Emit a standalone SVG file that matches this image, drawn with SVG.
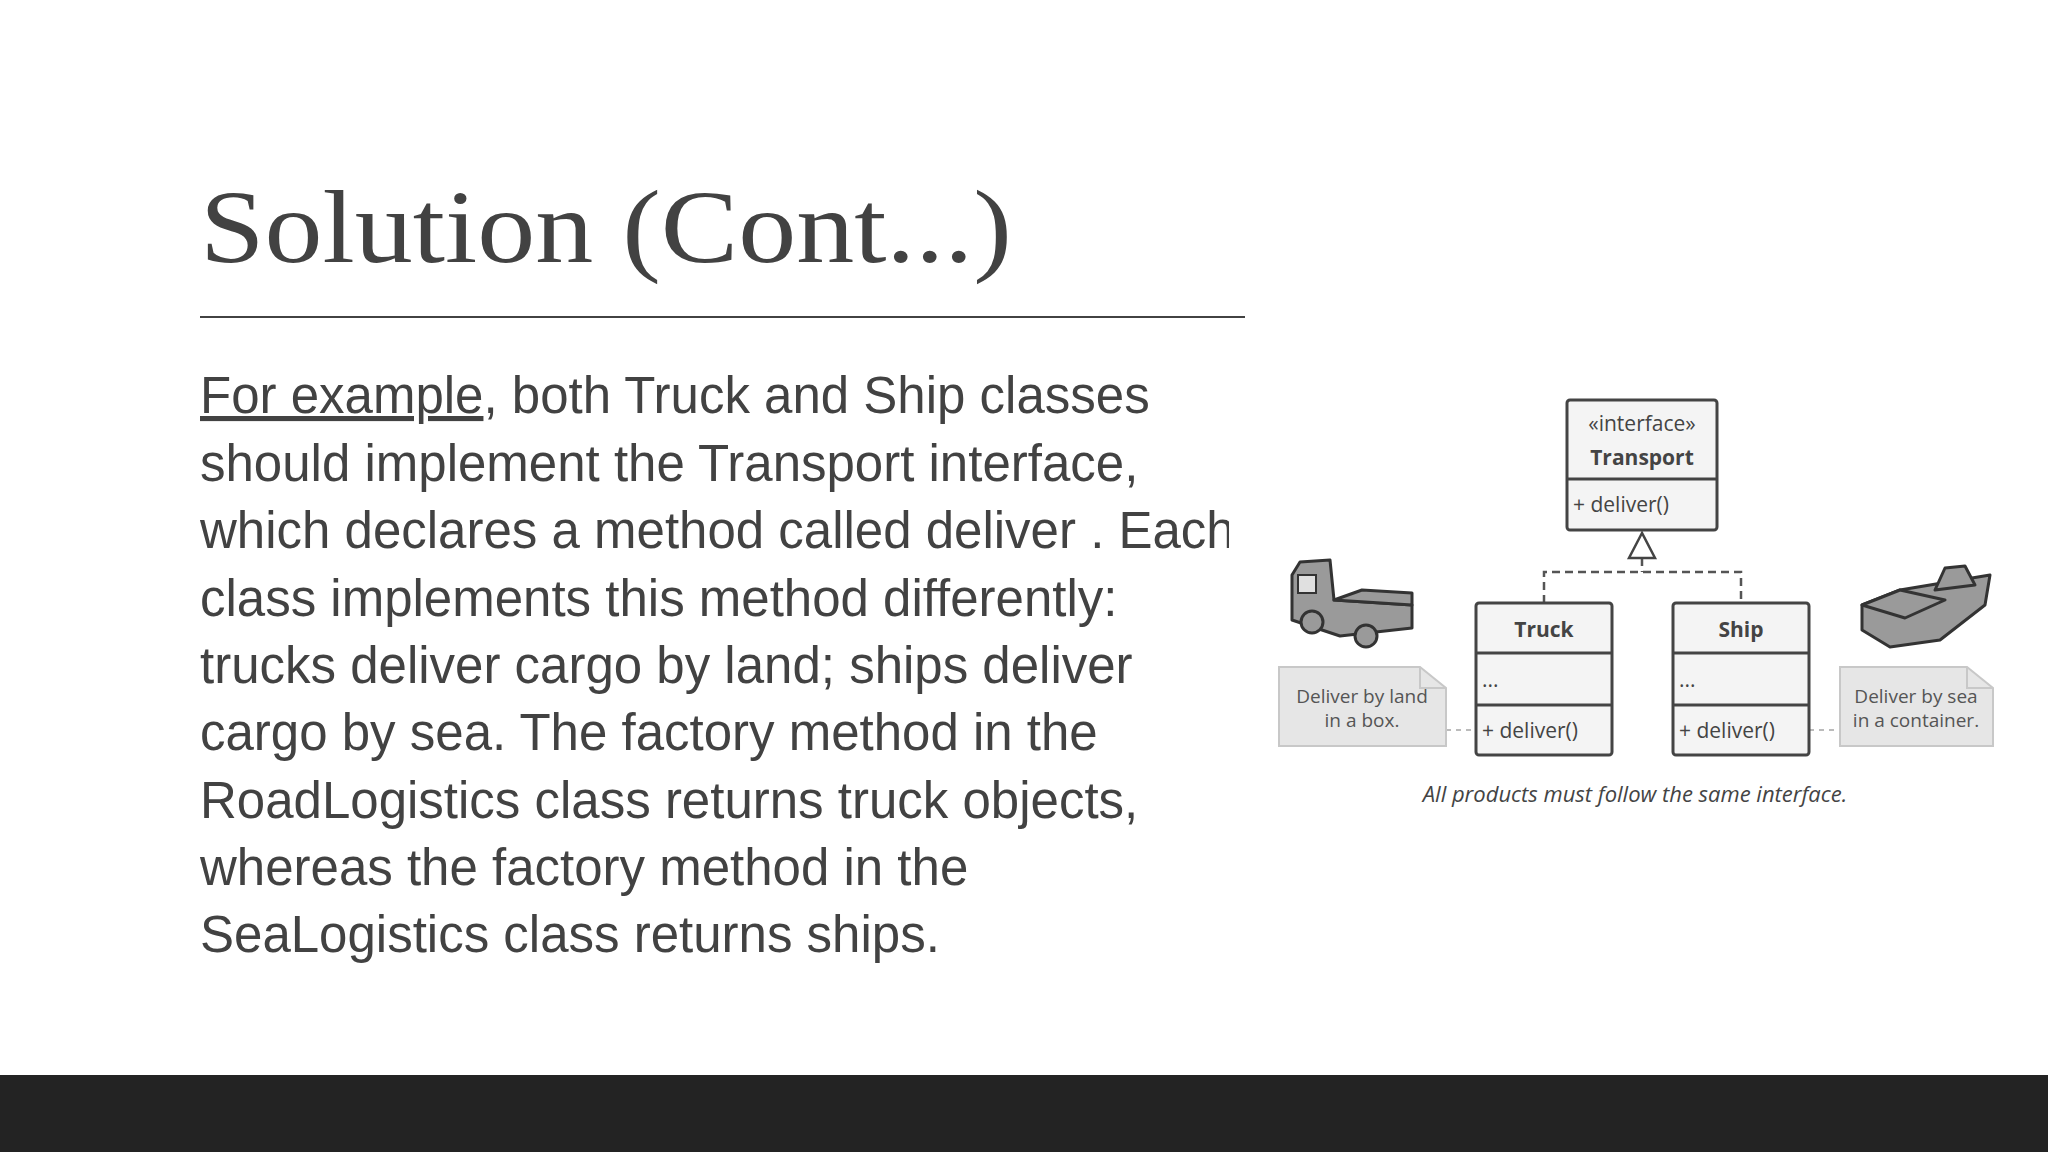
<svg xmlns="http://www.w3.org/2000/svg" width="2048" height="1152" viewBox="0 0 2048 1152">
<defs>
<style>
.body{font-family:"Liberation Sans",Arial,sans-serif;font-size:51px;fill:#424242}
.d{font-family:"Open Sans","DejaVu Sans",sans-serif;font-size:21px;fill:#444}
.n{font-family:"Open Sans","DejaVu Sans",sans-serif;font-size:19px;fill:#555}
.box{fill:#f4f4f4;stroke:#444;stroke-width:3}
.note{fill:#e6e6e6;stroke:#c8c8c8;stroke-width:2}
.ico{fill:#9a9a9a;stroke:#333;stroke-width:3;stroke-linejoin:round}
</style>
<clipPath id="bc"><rect x="0" y="0" width="1229" height="1152"/></clipPath>
</defs>
<rect width="2048" height="1152" fill="#fff"/>
<text x="200" y="262" font-family="Liberation Serif,serif" font-size="104" fill="#424242" textLength="812" lengthAdjust="spacingAndGlyphs">Solution (Cont...)</text>
<line x1="200" y1="317" x2="1245" y2="317" stroke="#424242" stroke-width="2"/>
<g clip-path="url(#bc)" class="body">
<text x="200" y="413"><tspan text-decoration="underline">For example</tspan>, both Truck and Ship classes</text>
<text x="200" y="481">should implement the Transport interface,</text>
<text x="200" y="548">which declares a method called deliver . Each</text>
<text x="200" y="616">class implements this method differently:</text>
<text x="200" y="683">trucks deliver cargo by land; ships deliver</text>
<text x="200" y="750">cargo by sea. The factory method in the</text>
<text x="200" y="818">RoadLogistics class returns truck objects,</text>
<text x="200" y="885">whereas the factory method in the</text>
<text x="200" y="952">SeaLogistics class returns ships.</text>
</g>
<rect x="0" y="1075" width="2048" height="77" fill="#232323"/>
<g id="connectors" fill="none">
<path d="M1642 558 V572 M1544 603 V572 H1741 V603" stroke="#555" stroke-width="2.5" stroke-dasharray="8,5"/>
<polygon points="1642,533 1629,558 1655,558" fill="#fff" stroke="#444" stroke-width="2.5"/>
<line x1="1446" y1="730" x2="1476" y2="730" stroke="#bbb" stroke-width="2" stroke-dasharray="5,5"/>
<line x1="1809" y1="730" x2="1840" y2="730" stroke="#bbb" stroke-width="2" stroke-dasharray="5,5"/>
</g>
<g id="transport">
<rect class="box" x="1567" y="400" width="150" height="130" rx="3"/>
<line x1="1567" y1="479" x2="1717" y2="479" stroke="#444" stroke-width="3"/>
<text class="d" x="1642" y="431" text-anchor="middle">«interface»</text>
<text class="d" x="1642" y="465" text-anchor="middle" font-weight="bold">Transport</text>
<text class="d" x="1573" y="512">+ deliver()</text>
</g>
<g id="truck">
<rect class="box" x="1476" y="603" width="136" height="152" rx="3"/>
<line x1="1476" y1="653" x2="1612" y2="653" stroke="#444" stroke-width="3"/>
<line x1="1476" y1="705" x2="1612" y2="705" stroke="#444" stroke-width="3"/>
<text class="d" x="1544" y="637" text-anchor="middle" font-weight="bold">Truck</text>
<text class="d" x="1482" y="687">...</text>
<text class="d" x="1482" y="738">+ deliver()</text>
</g>
<g id="ship">
<rect class="box" x="1673" y="603" width="136" height="152" rx="3"/>
<line x1="1673" y1="653" x2="1809" y2="653" stroke="#444" stroke-width="3"/>
<line x1="1673" y1="705" x2="1809" y2="705" stroke="#444" stroke-width="3"/>
<text class="d" x="1741" y="637" text-anchor="middle" font-weight="bold">Ship</text>
<text class="d" x="1679" y="687">...</text>
<text class="d" x="1679" y="738">+ deliver()</text>
</g>
<g id="note-land">
<path class="note" d="M1279 667 H1420 L1446 688 V746 H1279 Z"/>
<path d="M1420 667 V688 H1446" fill="none" stroke="#c8c8c8" stroke-width="2"/>
<text class="n" x="1362" y="703" text-anchor="middle">Deliver by land</text>
<text class="n" x="1362" y="727" text-anchor="middle">in a box.</text>
</g>
<g id="note-sea">
<path class="note" d="M1840 667 H1967 L1993 688 V746 H1840 Z"/>
<path d="M1967 667 V688 H1993" fill="none" stroke="#c8c8c8" stroke-width="2"/>
<text class="n" x="1916" y="703" text-anchor="middle">Deliver by sea</text>
<text class="n" x="1916" y="727" text-anchor="middle">in a container.</text>
</g>
<g id="truck-icon">
<path class="ico" d="M1292 575 L1300 562 L1330 560 L1334 600 L1412 605 L1412 628 L1340 636 L1292 620 Z"/>
<path class="ico" d="M1334 600 L1362 590 L1412 593 L1412 605 Z" fill="#555"/>
<rect x="1298" y="575" width="18" height="18" fill="#e0e0e0" stroke="#333" stroke-width="2"/>
<circle class="ico" cx="1312" cy="622" r="11" fill="#eee"/>
<circle class="ico" cx="1366" cy="636" r="11" fill="#eee"/>
</g>
<g id="ship-icon">
<path class="ico" d="M1862 605 L1900 590 L1990 575 L1985 605 L1940 640 L1890 647 L1862 630 Z"/>
<path class="ico" d="M1862 605 L1900 590 L1945 600 L1905 618 Z" fill="#444"/>
<path class="ico" d="M1935 590 L1945 568 L1965 566 L1975 585 Z" fill="#ddd"/>
</g>
<text x="1635" y="802" text-anchor="middle" font-family="Open Sans,DejaVu Sans,sans-serif" font-style="italic" font-size="22" fill="#444">All products must follow the same interface.</text>
</svg>
